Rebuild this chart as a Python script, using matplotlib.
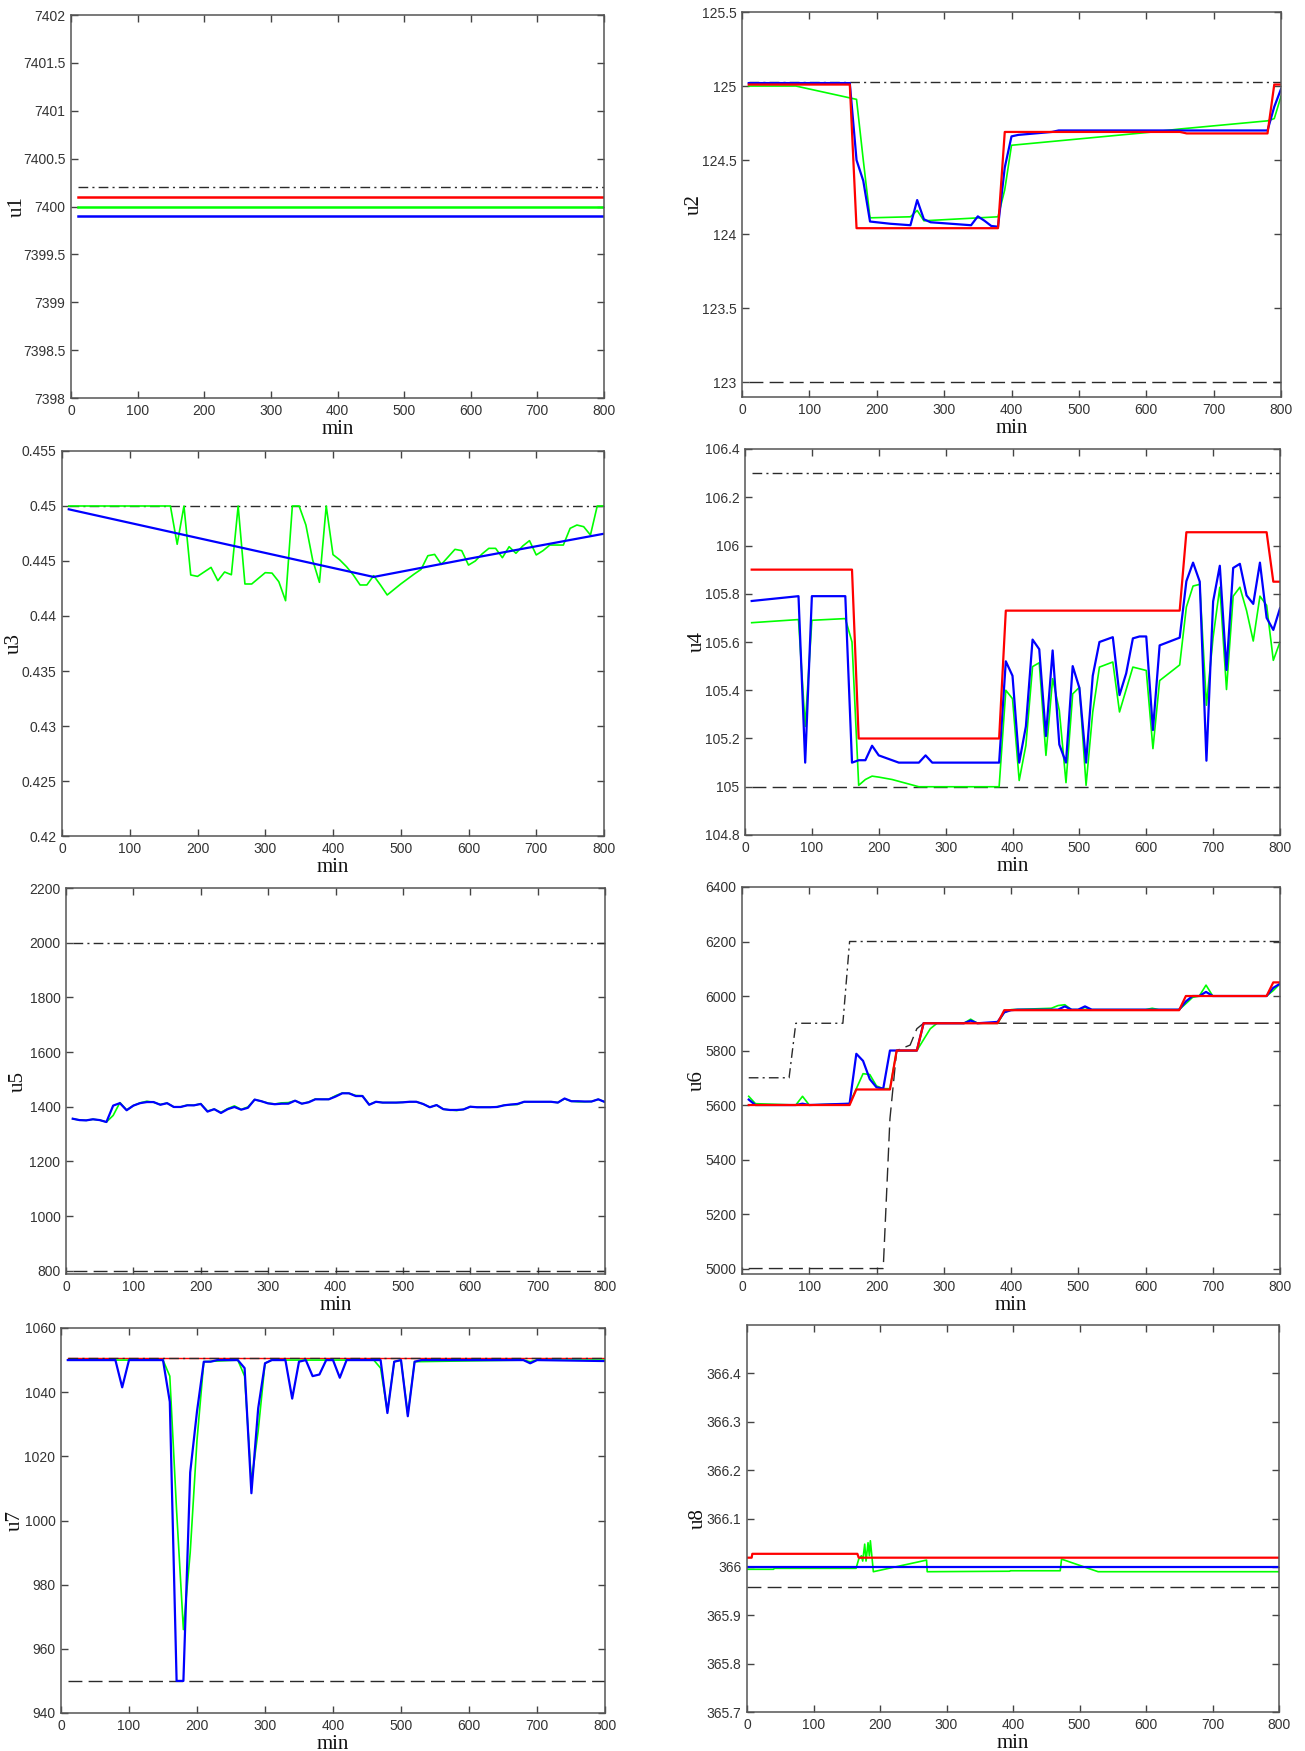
"""Manipulated variables u1..u8 over the 800 min run, with upper/lower bounds."""
import matplotlib
matplotlib.use("Agg")
import matplotlib.pyplot as plt
from matplotlib.ticker import FuncFormatter
import numpy as np

# ---------------------------------------------------------------- data
T_SPAN = [10, 800]

# u1 -- all flat
u1_upper = [7400.2, 7400.2]
u1_red = [7400.1, 7400.1]
u1_green = [7400.0, 7400.0]
u1_blue = [7399.9, 7399.9]

# u2
u2_upper = [125.03, 125.03]
u2_lower = [123.0, 123.0]
t_u2_red = [10, 160, 170, 380, 390, 650, 660, 780, 790, 800]
u2_red = [125.01, 125.01, 124.04, 124.04, 124.69, 124.69, 124.68, 124.68, 125.01, 125.01]
t_u2_blue = [10, 160, 170, 180, 190, 200, 220, 250, 260, 270, 280, 340, 350, 360, 370, 380,
             390, 400, 410, 460, 470, 780, 790, 800]
u2_blue = [125.02, 125.02, 124.5, 124.36, 124.085, 124.08, 124.07, 124.06, 124.23, 124.1,
           124.08, 124.06, 124.12, 124.09, 124.055, 124.05, 124.45, 124.66, 124.67, 124.69,
           124.7, 124.7, 124.86, 124.98]
t_u2_green = [10, 80, 170, 180, 190, 250, 260, 270, 380, 390, 400, 610, 650, 780, 790, 800]
u2_green = [125.0, 125.0, 124.91, 124.5, 124.11, 124.117, 124.16, 124.09, 124.117, 124.3,
            124.6, 124.69, 124.71, 124.765, 124.78, 124.93]

# u3
u3_upper = [0.45, 0.45]
t_u3_blue = [10, 200, 460, 600, 800]
u3_blue = [0.4497, 0.4471, 0.44355, 0.4452, 0.44748]
t_u3_green = [10, 160, 170, 180, 190, 200, 220, 230, 240, 250, 260, 270, 280, 300, 310, 320,
              330, 340, 350, 360, 370, 380, 390, 400, 410, 420, 430, 440, 450, 460, 470, 480,
              500, 520, 530, 540, 550, 560, 580, 590, 600, 610, 620, 630, 640, 650, 660, 670,
              680, 690, 700, 710, 720, 740, 750, 760, 770, 780, 790, 800]
u3_green = [0.45, 0.45, 0.44652, 0.45, 0.44373, 0.4436, 0.44442, 0.44321, 0.444, 0.44375,
            0.45, 0.44291, 0.44291, 0.44394, 0.4439, 0.44312, 0.44139, 0.45, 0.45, 0.44827,
            0.44509, 0.44306, 0.45, 0.44558, 0.4451, 0.44448, 0.44373, 0.44282, 0.44282,
            0.44367, 0.44282, 0.44191, 0.44291, 0.44382, 0.44424, 0.44548, 0.4456, 0.44469,
            0.44606, 0.44594, 0.44463, 0.445, 0.44564, 0.44615, 0.44615, 0.4453, 0.4463,
            0.4457, 0.44636, 0.44685, 0.44555, 0.44594, 0.44645, 0.44645, 0.44797, 0.44827,
            0.44812, 0.44736, 0.45, 0.45]

# u4
u4_upper = [106.3, 106.3]
u4_lower = [105.0, 105.0]
t_u4_red = [10, 160, 170, 380, 390, 650, 660, 780, 790, 800]
u4_red = [105.9, 105.9, 105.2, 105.2, 105.73, 105.73, 106.055, 106.055, 105.85, 105.85]
t_u4_blue = [10, 80, 90, 100, 150, 160, 170, 180, 190, 200, 220, 230, 260, 270, 280, 380, 390,
             400, 410, 420, 430, 440, 450, 460, 470, 480, 490, 500, 510, 520, 530, 550, 560,
             570, 580, 590, 600, 610, 620, 650, 660, 670, 680, 690, 700, 710, 720, 730, 740,
             750, 760, 770, 780, 790, 800]
u4_blue = [105.77, 105.79, 105.1, 105.79, 105.79, 105.1, 105.11, 105.11, 105.17, 105.13,
           105.11, 105.1, 105.1, 105.13, 105.1, 105.1, 105.52, 105.46, 105.1, 105.25, 105.61,
           105.57, 105.21, 105.565, 105.175, 105.1, 105.5, 105.41, 105.1, 105.46, 105.6,
           105.62, 105.38, 105.47, 105.615, 105.623, 105.623, 105.235, 105.586, 105.618,
           105.852, 105.929, 105.85, 105.108, 105.768, 105.916, 105.484, 105.907, 105.924,
           105.793, 105.758, 105.929, 105.7, 105.65, 105.74]
t_u4_green = [10, 80, 90, 100, 150, 160, 170, 180, 190, 200, 220, 240, 260, 380, 390, 400, 410,
              420, 430, 440, 450, 460, 470, 480, 490, 500, 510, 520, 530, 550, 560, 580, 600,
              610, 620, 650, 660, 670, 680, 690, 700, 710, 720, 730, 740, 750, 760, 770, 780,
              790, 800]
u4_green = [105.68, 105.693, 105.25, 105.69, 105.697, 105.6, 105.006, 105.03, 105.044, 105.04,
            105.03, 105.015, 105.0, 105.0, 105.4, 105.365, 105.026, 105.171, 105.498, 105.514,
            105.13, 105.448, 105.316, 105.017, 105.385, 105.412, 105.006, 105.31, 105.496,
            105.517, 105.31, 105.496, 105.482, 105.158, 105.44, 105.505, 105.745, 105.832,
            105.839, 105.338, 105.62, 105.827, 105.403, 105.79, 105.827, 105.73, 105.604,
            105.79, 105.752, 105.524, 105.6]

# u5 -- sampled every 10 min
t_u5 = list(range(10, 801, 10))
u5_upper = [2000, 2000]
u5_lower = [800, 800]
u5_blue = [1356, 1351, 1350, 1354, 1351, 1344, 1404, 1413, 1387, 1404,
           1413, 1417, 1417, 1407, 1413, 1399, 1399, 1405, 1405, 1410,
           1382, 1391, 1377, 1391, 1399, 1389, 1396, 1426, 1420, 1412,
           1409, 1411, 1411, 1422, 1411, 1416, 1427, 1427, 1427, 1437,
           1449, 1449, 1439, 1439, 1407, 1418, 1415, 1415, 1415, 1416,
           1418, 1418, 1410, 1398, 1406, 1391, 1388, 1388, 1390, 1400,
           1398, 1398, 1398, 1399, 1405, 1408, 1410, 1418, 1418, 1418,
           1418, 1418, 1415, 1430, 1420, 1420, 1419, 1419, 1427, 1417]
u5_green = [1356, 1351, 1350, 1354, 1351, 1344, 1368, 1415, 1388, 1404,
            1414, 1420, 1416, 1408, 1413, 1399, 1399, 1406, 1405, 1411,
            1384, 1391, 1379, 1393, 1403, 1390, 1399, 1426, 1420, 1413,
            1410, 1414, 1415, 1422, 1411, 1417, 1428, 1427, 1427, 1440,
            1450, 1449, 1441, 1440, 1408, 1418, 1415, 1415, 1415, 1416,
            1418, 1418, 1410, 1398, 1406, 1391, 1388, 1386, 1390, 1400,
            1398, 1398, 1398, 1400, 1405, 1407, 1408, 1418, 1418, 1418,
            1418, 1418, 1415, 1429, 1420, 1418, 1418, 1419, 1427, 1417]

# u6
t_u6_upper = [10, 70, 80, 150, 160, 800]
u6_upper = [5700, 5700, 5900, 5900, 6200, 6200]
t_u6_lower = [10, 210, 220, 230, 250, 260, 270, 800]
u6_lower = [5000, 5000, 5550, 5800, 5820, 5880, 5900, 5900]
t_u6_red = [10, 160, 170, 220, 230, 260, 270, 380, 390, 650, 660, 780, 790, 800]
u6_red = [5600, 5600, 5657, 5657, 5800, 5800, 5900, 5900, 5948, 5948, 6000, 6000, 6050, 6050]
t_u6_blue = [10, 20, 80, 90, 100, 160, 170, 180, 190, 200, 210, 220, 260, 270, 330, 340, 350,
             380, 390, 400, 410, 470, 480, 490, 500, 510, 520, 650, 660, 670, 680, 690, 700,
             780, 790, 800]
u6_blue = [5620, 5600, 5600, 5605, 5600, 5605, 5788, 5762, 5695, 5665, 5660, 5800, 5800, 5900,
           5900, 5910, 5900, 5905, 5940, 5948, 5950, 5950, 5962, 5950, 5950, 5962, 5950, 5950,
           5980, 6000, 6000, 6015, 6000, 6000, 6030, 6045]
t_u6_green = [10, 20, 80, 90, 100, 160, 170, 180, 190, 200, 210, 220, 230, 260, 270, 280, 290,
              330, 340, 350, 380, 390, 400, 460, 470, 480, 490, 500, 510, 520, 600, 610, 620,
              650, 660, 670, 680, 690, 700, 780, 790, 800]
u6_green = [5632, 5605, 5600, 5632, 5600, 5605, 5660, 5715, 5712, 5670, 5660, 5660, 5800, 5800,
            5840, 5880, 5900, 5900, 5915, 5900, 5900, 5940, 5950, 5955, 5965, 5968, 5950, 5950,
            5958, 5950, 5950, 5955, 5950, 5950, 5972, 5995, 6000, 6040, 6000, 6000, 6020, 6045]

# u7
u7_upper = [1050.8, 1050.8]
u7_lower = [950, 950]
u7_red = [1050.5, 1050.5]
t_u7_blue = [10, 80, 90, 100, 150, 160, 170, 180, 190, 200, 210, 220, 230, 260, 270, 280, 290,
             300, 310, 330, 340, 350, 360, 370, 380, 390, 400, 410, 420, 470, 480, 490, 500,
             510, 520, 530, 680, 690, 700, 800]
u7_blue = [1050, 1050, 1041.5, 1050, 1050, 1037, 950, 950, 1015, 1034, 1049.5, 1049.5, 1050,
           1050, 1047.5, 1008.5, 1035, 1049, 1050, 1050, 1038, 1049.5, 1050, 1045, 1045.5,
           1050, 1050, 1044.5, 1050, 1050, 1033.5, 1049.5, 1050, 1032.5, 1049.5, 1050, 1050,
           1049, 1050, 1049.7]
t_u7_green = [10, 150, 160, 170, 180, 190, 200, 210, 260, 270, 280, 290, 300, 310, 460, 470,
              480, 490, 500, 510, 520, 680, 690, 700, 800]
u7_green = [1050, 1050, 1045, 1003, 966, 990, 1025, 1049.5, 1050, 1045, 1012, 1028, 1049, 1050,
            1050, 1047.5, 1034, 1049.5, 1050, 1033, 1049.5, 1050, 1049.5, 1050, 1050]

# u8
T8_SPAN = [0, 800]
u8_lower = [365.958, 365.958]
u8_blue = [366.0, 366.0]
t_u8_red = [0, 7, 8, 166, 168, 800]
u8_red = [366.019, 366.019, 366.027, 366.027, 366.019, 366.019]
t_u8_green = [0, 40, 41, 164, 168, 172, 174, 177, 179, 182, 184, 185.5, 188, 190, 270, 271,
              395, 396, 471, 473, 528, 800]
u8_green = [365.995, 365.995, 365.997, 365.997, 366.016, 366.023, 366.012, 366.047, 366.012,
            366.05, 366.023, 366.054, 366.019, 365.99, 366.014, 365.99, 365.991, 365.992,
            365.992, 366.016, 365.99, 365.99]

# ---------------------------------------------------------------- style
W, H = 1305, 1751
RED, GREEN, BLUE = "#ff0000", "#00ff00", "#0000ff"
BOUND = "#2a2a2a"
TICK_FONT = ["Liberation Sans Narrow", "Liberation Sans", "DejaVu Sans"]
LABEL_FONT = ["Liberation Serif", "DejaVu Serif"]


def axes_at(fig, left, top, right, bottom):
    """Axes from a pixel box (origin top-left)."""
    ax = fig.add_axes([left / W, 1 - bottom / H, (right - left) / W, (bottom - top) / H])
    ax.box_px = (left, right)
    return ax


def upper(ax, t, y):
    ax.plot(t, y, color=BOUND, lw=1.0, dashes=(7, 3, 1.5, 3))


def lower(ax, t, y):
    ax.plot(t, y, color=BOUND, lw=1.0, dashes=(10, 4.5))


def trace(ax, t, y, color, lw=1.6):
    ax.plot(t, y, color=color, lw=lw, solid_joinstyle="round")


def finish(ax, ylim, yticks, name, label_x):
    ax.set_xlim(0, 800)
    ax.set_xticks(range(0, 801, 100))
    ax.set_ylim(*ylim)
    ax.set_yticks(yticks)
    ax.yaxis.set_major_formatter(FuncFormatter(lambda v, _: f"{v:g}"))
    ax.tick_params(direction="in", top=True, right=True, length=5, width=1,
                   color="#444", labelcolor="#333", labelsize=10, pad=4)
    for lab in ax.get_xticklabels() + ax.get_yticklabels():
        lab.set_family(TICK_FONT)
    for s in ax.spines.values():
        s.set_color("#555")
        s.set_linewidth(1.1)
    ax.set_xlabel("min", family=LABEL_FONT, fontsize=15, labelpad=2, color="#111")
    ax.set_ylabel(name, family=LABEL_FONT, fontsize=15, color="#111")
    # y label centred at a fixed pixel column left of the tick labels
    left, right = ax.box_px
    ax.yaxis.set_label_coords((label_x + 8 - left) / (right - left), 0.5)


def main():
    fig = plt.figure(figsize=(W / 100, H / 100), dpi=100)

    # u1
    ax = axes_at(fig, 71, 15, 604, 398)
    upper(ax, T_SPAN, u1_upper)
    trace(ax, T_SPAN, u1_green, GREEN, 1.8)
    trace(ax, T_SPAN, u1_blue, BLUE, 1.8)
    trace(ax, T_SPAN, u1_red, RED, 1.8)
    finish(ax, (7398, 7402), np.linspace(7398, 7402, 9), "u1", 19)

    # u2
    ax = axes_at(fig, 742, 12, 1281, 397)
    upper(ax, T_SPAN, u2_upper)
    lower(ax, T_SPAN, u2_lower)
    trace(ax, t_u2_green, u2_green, GREEN, 1.2)
    trace(ax, t_u2_blue, u2_blue, BLUE)
    trace(ax, t_u2_red, u2_red, RED)
    finish(ax, (122.9, 125.5), np.linspace(123, 125.5, 6), "u2", 696)

    # u3
    ax = axes_at(fig, 62, 451, 604, 836)
    upper(ax, T_SPAN, u3_upper)
    trace(ax, t_u3_green, u3_green, GREEN, 1.2)
    trace(ax, t_u3_blue, u3_blue, BLUE)
    finish(ax, (0.42, 0.455), np.linspace(0.42, 0.455, 8), "u3", 16)

    # u4
    ax = axes_at(fig, 745, 449, 1280, 835)
    upper(ax, T_SPAN, u4_upper)
    lower(ax, T_SPAN, u4_lower)
    trace(ax, t_u4_green, u4_green, GREEN, 1.2)
    trace(ax, t_u4_blue, u4_blue, BLUE)
    trace(ax, t_u4_red, u4_red, RED)
    finish(ax, (104.8, 106.4), np.linspace(104.8, 106.4, 9), "u4", 699)

    # u5
    ax = axes_at(fig, 66, 888, 605, 1274)
    upper(ax, T_SPAN, u5_upper)
    lower(ax, T_SPAN, u5_lower)
    trace(ax, t_u5, u5_green, GREEN, 1.2)
    trace(ax, t_u5, u5_blue, BLUE)
    finish(ax, (788, 2200), np.arange(800, 2201, 200), "u5", 20)

    # u6
    ax = axes_at(fig, 742, 887, 1280, 1274)
    upper(ax, t_u6_upper, u6_upper)
    lower(ax, t_u6_lower, u6_lower)
    trace(ax, t_u6_green, u6_green, GREEN, 1.2)
    trace(ax, t_u6_blue, u6_blue, BLUE)
    trace(ax, t_u6_red, u6_red, RED)
    finish(ax, (4980, 6400), np.arange(5000, 6401, 200), "u6", 699)

    # u7
    ax = axes_at(fig, 61, 1328, 605, 1713)
    lower(ax, T_SPAN, u7_lower)
    trace(ax, T_SPAN, u7_red, RED, 1.0)
    upper(ax, T_SPAN, u7_upper)
    trace(ax, t_u7_green, u7_green, GREEN, 1.2)
    trace(ax, t_u7_blue, u7_blue, BLUE)
    finish(ax, (940, 1060), np.arange(940, 1061, 20), "u7", 17)

    # u8
    ax = axes_at(fig, 747, 1325, 1279, 1712)
    lower(ax, T8_SPAN, u8_lower)
    trace(ax, t_u8_green, u8_green, GREEN, 1.2)
    trace(ax, T8_SPAN, u8_blue, BLUE)
    trace(ax, t_u8_red, u8_red, RED)
    finish(ax, (365.7, 366.5), np.linspace(365.7, 366.4, 8), "u8", 700)

    fig.savefig("out.png", dpi=100)
    plt.close(fig)


if __name__ == "__main__":
    main()
